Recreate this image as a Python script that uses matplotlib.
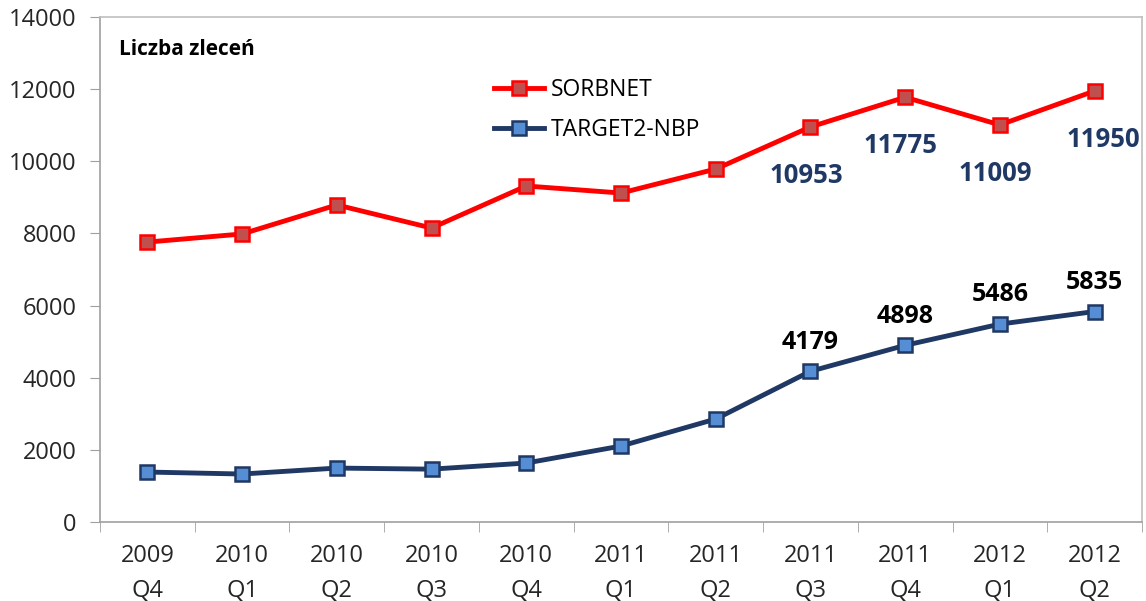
import matplotlib.pyplot as plt
import numpy as np

plt.rcParams['font.family'] = ['Open Sans', 'DejaVu Sans']

kwartaly = ['2009\nQ4', '2010\nQ1', '2010\nQ2', '2010\nQ3', '2010\nQ4', '2011\nQ1',
            '2011\nQ2', '2011\nQ3', '2011\nQ4', '2012\nQ1', '2012\nQ2']
sorbnet = [7760, 7985, 8790, 8150, 9315, 9120, 9785, 10953, 11775, 11009, 11950]
target2 = [1385, 1330, 1495, 1465, 1635, 2105, 2855, 4179, 4898, 5486, 5835]
# etykiety tylko dla ostatnich czterech kwartalow
od = 7

fig = plt.figure(figsize=(11.46, 6.01), dpi=100)
ax = fig.add_axes([100/1146, 1-522/601, 1042/1146, 505/601])

x = np.arange(len(kwartaly))
ax.plot(x, sorbnet, color='#FF0000', lw=3.5, marker='s', ms=10,
        mfc='#C0504D', mec='#FF0000', mew=1.8, label='SORBNET', zorder=3)
ax.plot(x, target2, color='#1F3864', lw=3.5, marker='s', ms=10,
        mfc='#558ED5', mec='#1F3864', mew=1.8, label='TARGET2-NBP', zorder=3)

for i in range(od, len(x)):
    dx = 6 if i == len(x)-1 else -3
    ax.annotate(str(sorbnet[i]), (x[i], sorbnet[i]), xytext=(dx, -35),
                textcoords='offset points', ha='center', va='center',
                fontsize=18.5, fontweight='bold', color='#1F3864')
    ax.annotate(str(target2[i]), (x[i], target2[i]), xytext=(0, 21),
                textcoords='offset points', ha='center', va='center',
                fontsize=18, fontweight='bold', color='black')

ax.set_xlim(-0.5, len(x)-0.5)
ax.set_ylim(0, 14000)
ax.set_yticks(np.arange(0, 14001, 2000))
ax.set_xticks(x)
ax.set_xticklabels(kwartaly, fontsize=17, color='#262626', linespacing=1.6)
ax.set_xticks(np.arange(-0.5, len(x), 1), minor=True)
ax.tick_params(axis='x', which='major', length=0, pad=16)
ax.tick_params(axis='x', which='minor', length=7, color='#A0A0A0')
ax.tick_params(axis='y', labelsize=17, labelcolor='#262626', length=7,
               color='#A0A0A0', pad=10)
for s in ax.spines.values():
    s.set_color('#BFBFBF')
    s.set_linewidth(1.2)
ax.spines['left'].set_color('#A0A0A0')
ax.spines['bottom'].set_color('#A0A0A0')

ax.text(0.018, 0.935, 'Liczba zleceń', transform=ax.transAxes, fontsize=15,
        fontweight='bold', ha='left', va='center')

ax.legend(loc='upper left', bbox_to_anchor=(0.358, 0.92), frameon=False,
          fontsize=16.5, handlelength=2.2, labelspacing=0.7, handletextpad=0.3)

fig.savefig('out.png', dpi=100)
